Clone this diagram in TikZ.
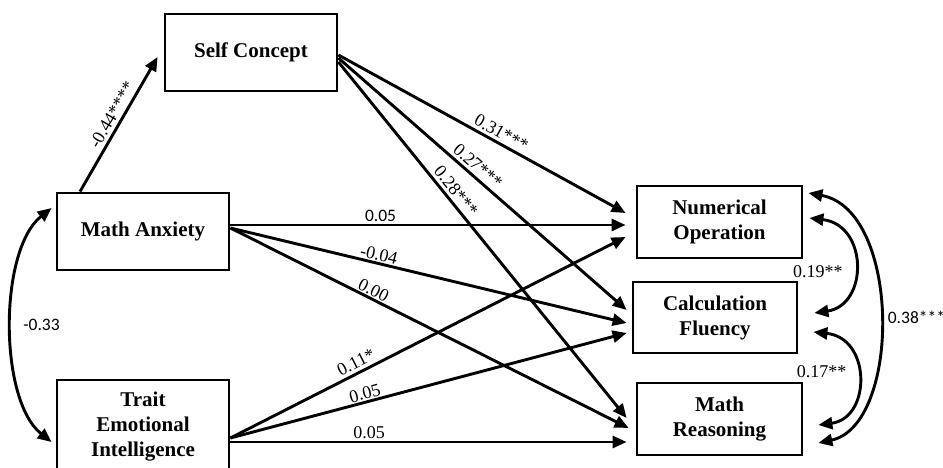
\documentclass[tikz,border=0pt]{standalone}
\usepackage{fontspec}
\setmainfont{Liberation Serif}
\newfontfamily\carlito{Carlito}
\usetikzlibrary{arrows.meta}

\begin{document}
\begin{tikzpicture}[x=1pt,y=-1pt,
        box/.style={draw,line width=2.8pt,inner sep=0pt,align=center,
          font=\bfseries\fontsize{21}{25}\selectfont},
        arr/.style={line width=2.9pt,-{Triangle[length=14pt,width=12pt]}},
        dbl/.style={line width=2.9pt,{Triangle[length=14pt,width=12pt]}-{Triangle[length=14pt,width=12pt]}},
        coef/.style={font=\fontsize{18}{20}\selectfont,inner sep=1pt},
        coefsans/.style={font=\carlito\fontsize{17.5}{20}\selectfont,inner sep=1pt}]
        \useasboundingbox (0,0) rectangle (943,468);
        \clip (0,0) rectangle (943,468);
        % Riquadri
        \node[box,minimum width=172pt,minimum height=77pt] (sc) at (251,52.5) {Self Concept};
        \node[box,minimum width=172pt,minimum height=77pt] (ma) at (143,231.5) {Math Anxiety};
        \node[box,minimum width=172pt,minimum height=94pt] (tei) at (143,427) {Trait\\Emotional\\Intelligence};
        \node[box,minimum width=165pt,minimum height=72pt] (no) at (719.5,222) {Numerical\\Operation};
        \node[box,minimum width=164pt,minimum height=71pt] (cf) at (715,317.5) {Calculation\\Fluency};
        \node[box,minimum width=165pt,minimum height=72pt] (mr) at (719.5,419) {Math\\Reasoning};
        % Ansia -> concetto di se
        \draw[arr] ([xshift=-63pt]ma.north) -- node[coef,sloped,above=2pt,pos=0.53] {-0.44****} ([xshift=-6pt,yshift=-4.5pt]sc.west);
        % Da Self Concept
        \draw[arr] ([yshift=-2.5pt]sc.east) -- node[coef,sloped,above=2pt,pos=0.55] {0.31***} ([xshift=-10pt,yshift=9pt]no.west);
        \draw[arr] ([yshift=-5.5pt]sc.east) -- node[coef,sloped,above=2pt,pos=0.46] {0.27***} ([xshift=-5pt,yshift=7.5pt]cf.west);
        \draw[arr] ([yshift=-9.5pt]sc.east) -- node[coef,sloped,above=2pt,pos=0.38] {0.28***} ([xshift=-9pt,yshift=1pt]mr.west);
        % Da Math Anxiety
        \draw[arr] ([yshift=6.5pt]ma.east) -- node[coefsans,above=1pt,pos=0.38] {0.05} ([xshift=-10pt,yshift=-3pt]no.west);
        \draw[arr] ([yshift=3.5pt]ma.east) -- node[coef,sloped,above,pos=0.37] {-0.04} ([xshift=-5pt,yshift=-5.5pt]cf.west);
        \draw[arr] ([yshift=3.5pt]ma.east) -- node[coef,sloped,above,pos=0.35] {0.00} ([xshift=-7pt,yshift=-9pt]mr.west);
        % Da Trait EI
        \draw[arr] ([yshift=-11pt]tei.east) -- node[coef,sloped,above=2pt,pos=0.33] {0.11*} ([xshift=-10pt,yshift=-15pt]no.west);
        \draw[arr] ([yshift=-11pt]tei.east) -- node[coef,sloped,above,pos=0.345] {0.05} ([xshift=-5pt,yshift=-15.5pt]cf.west);
        \draw[arr] ([yshift=-15pt]tei.east) -- node[coef,above=1pt,pos=0.35] {0.05} ([xshift=-9pt,yshift=-23pt]mr.west);
        % Covarianze
        \draw[dbl] ([xshift=-4pt,yshift=23.5pt]ma.west) .. controls +(-53,42) and +(-53,-42) .. ([xshift=-4pt,yshift=-15pt]tei.west)
          node[coefsans,right=9pt,pos=0.5] {-0.33};
        \draw[dbl] ([xshift=6pt,yshift=4pt]no.east) .. controls +(59,7) and +(54,-8) .. ([xshift=16pt,yshift=4.5pt]cf.east)
          node[coef,left=9pt,pos=0.55] {0.19**};
        \draw[dbl] ([xshift=15pt,yshift=-14.5pt]cf.east) .. controls +(58,6) and +(53,-7) .. ([xshift=15pt,yshift=-6pt]mr.east)
          node[coef,left=8pt,pos=0.45] {0.17**};
        \draw[dbl] ([xshift=5pt,yshift=29pt]no.east) .. controls +(93,17) and +(83,-18) .. ([xshift=15pt,yshift=-24pt]mr.east)
          node[coefsans,right=6pt,pos=0.5] {0.38***};
    \end{tikzpicture}
\end{document}
